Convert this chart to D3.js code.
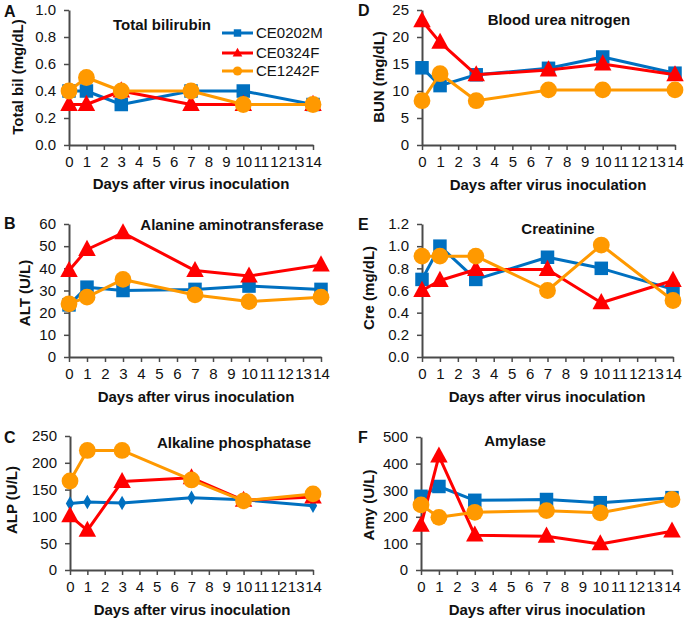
<!DOCTYPE html>
<html>
<head>
<meta charset="utf-8">
<script src="https://cdn.jsdelivr.net/npm/d3@7"></script>
<style>
  html, body { margin: 0; padding: 0; background: #fff; }
  svg text { font-family: Arial, "Liberation Sans", sans-serif; }
</style>
</head>
<body>
<script>
// ---------------- DATA ----------------
const days = [0, 1, 3, 7, 10, 14];
const seriesNames = ["CE0202M", "CE0324F", "CE1242F"];
const xTickLabels = d3.range(0, 15);

// A: Total bilirubin (mg/dL)
const bil_CE0202M = [0.4, 0.4, 0.3, 0.4, 0.4, 0.3];
const bil_CE0324F = [0.3, 0.3, 0.4, 0.3, 0.3, 0.3];
const bil_CE1242F = [0.4, 0.5, 0.4, 0.4, 0.3, 0.3];

// B: ALT (U/L)
const alt_CE0202M = [23.5, 31.5, 30, 30.5, 32, 30.5];
const alt_CE0324F = [39, 48.5, 56, 39, 36.5, 41.5];
const alt_CE1242F = [24, 27, 35, 28, 25, 27];

// C: ALP (U/L)
const alp_CE0202M = [124, 127, 125, 135, 131, 120];
const alp_CE0324F = [101, 74, 165, 172, 130, 136];
const alp_CE1242F = [166, 223, 223, 168, 129, 142];

// D: BUN (mg/dL)
const bun_CE0202M = [14.3, 11, 13, 14.2, 16.3, 13.3];
const bun_CE0324F = [23, 19, 13, 13.9, 15, 13];
const bun_CE1242F = [8.2, 13.2, 8.2, 10.2, 10.2, 10.2];

// E: Creatinine (mg/dL)
const cre_CE0202M = [0.70, 1.00, 0.70, 0.90, 0.80, 0.61];
const cre_CE0324F = [0.60, 0.69, 0.79, 0.79, 0.49, 0.69];
const cre_CE1242F = [0.91, 0.91, 0.91, 0.60, 1.01, 0.51];

// F: Amylase (U/L)
const amy_CE0202M = [277, 314, 262, 265, 253, 272];
const amy_CE0324F = [168, 428, 131, 127, 98, 146];
const amy_CE1242F = [245, 198, 217, 223, 215, 265];

// ---------------- STYLE / LAYOUT ----------------
const colors = { CE0202M: "#0070C0", CE0324F: "#FF0000", CE1242F: "#FF9900" };
const W = 688, H = 622;

const panels = [
  { letter: "A", title: "Total bilirubin", ytitle: "Total bil (mg/dL)",
    data: [bil_CE0202M, bil_CE0324F, bil_CE1242F], max: 1.0, step: 0.2, fmt: ".1f",
    x0: 69, x1: 313, yt: 10, yb: 145, lx: 4, ly: 17, tx: 162, ty: 25, ytx: 18, yty: 77, xtx: 191, xty: 184 },
  { letter: "B", title: "Alanine aminotransferase", ytitle: "ALT (U/L)",
    data: [alt_CE0202M, alt_CE0324F, alt_CE1242F], max: 60, step: 10, fmt: "d",
    x0: 69, x1: 321, yt: 224, yb: 357, lx: 4, ly: 229, tx: 232, ty: 225, ytx: 25, yty: 293, xtx: 196, xty: 397 },
  { letter: "C", title: "Alkaline phosphatase", ytitle: "ALP (U/L)",
    data: [alp_CE0202M, alp_CE0324F, alp_CE1242F], max: 250, step: 50, fmt: "d", diamondBlue: true,
    x0: 70, x1: 313, yt: 436, yb: 570, lx: 4, ly: 443, tx: 234, ty: 443, ytx: 12, yty: 500, xtx: 192, xty: 610 },
  { letter: "D", title: "Blood urea nitrogen", ytitle: "BUN (mg/dL)",
    data: [bun_CE0202M, bun_CE0324F, bun_CE1242F], max: 25, step: 5, fmt: "d",
    x0: 422, x1: 675, yt: 10, yb: 145, lx: 358, ly: 16, tx: 559, ty: 20, ytx: 379, yty: 77, xtx: 548, xty: 185 },
  { letter: "E", title: "Creatinine", ytitle: "Cre (mg/dL)",
    data: [cre_CE0202M, cre_CE0324F, cre_CE1242F], max: 1.2, step: 0.2, fmt: ".1f",
    x0: 422, x1: 673, yt: 224, yb: 357, lx: 358, ly: 230, tx: 558, ty: 229, ytx: 369, yty: 288, xtx: 547, xty: 397 },
  { letter: "F", title: "Amylase", ytitle: "Amy (U/L)",
    data: [amy_CE0202M, amy_CE0324F, amy_CE1242F], max: 500, step: 100, fmt: "d",
    x0: 421, x1: 672, yt: 437, yb: 570, lx: 358, ly: 443, tx: 515, ty: 441, ytx: 369, yty: 505, xtx: 547, xty: 610 }
];

const svg = d3.select("body").append("svg").attr("width", W).attr("height", H);
const axisColor = "#4a4a4a";
const textColor = "#111";

function drawMarker(g, name, cx, cy, scale, diamond) {
  const c = colors[name];
  if (name === "CE0202M") {
    if (diamond) {
      g.append("path").attr("d", d3.symbol(d3.symbolDiamond, 60 * scale * scale)())
        .attr("transform", `translate(${cx},${cy})`).attr("fill", c);
    } else {
      const s = 13.5 * scale;
      g.append("rect").attr("x", cx - s / 2).attr("y", cy - s / 2).attr("width", s).attr("height", s).attr("fill", c);
    }
  } else if (name === "CE0324F") {
    const s = 17.5 * scale, h = s * 0.92;
    g.append("path")
      .attr("d", `M${cx},${cy - h * 0.6}L${cx + s / 2},${cy + h * 0.4}L${cx - s / 2},${cy + h * 0.4}Z`)
      .attr("fill", c);
  } else {
    g.append("circle").attr("cx", cx).attr("cy", cy).attr("r", 8.4 * scale).attr("fill", c);
  }
}

panels.forEach(p => {
  const g = svg.append("g");
  const x = d3.scaleLinear().domain([0, 14]).range([p.x0, p.x1]);
  const y = d3.scaleLinear().domain([0, p.max]).range([p.yb, p.yt]);
  const yTicks = d3.range(0, p.max + p.step / 2, p.step);

  const yAxis = d3.axisLeft(y).tickValues(yTicks).tickFormat(d3.format(p.fmt))
    .tickSize(5).tickSizeOuter(0).tickPadding(8);
  const xAxis = d3.axisBottom(x).tickValues(xTickLabels).tickFormat(d3.format("d"))
    .tickSize(5).tickSizeOuter(0).tickPadding(6);

  const ga = g.append("g").attr("transform", `translate(${p.x0},0)`).call(yAxis);
  const gx = g.append("g").attr("transform", `translate(0,${p.yb})`).call(xAxis);
  [ga, gx].forEach(a => {
    a.select(".domain").attr("stroke", axisColor).attr("stroke-width", 2);
    a.selectAll(".tick line").attr("stroke", axisColor).attr("stroke-width", 1.5);
    a.selectAll(".tick text").attr("fill", textColor).style("font-size", "15px");
  });

  // lines + markers
  seriesNames.forEach((name, si) => {
    const vals = p.data[si];
    const pts = days.map((d, i) => [x(d), y(vals[i])]);
    g.append("path").attr("d", d3.line()(pts)).attr("fill", "none")
      .attr("stroke", colors[name]).attr("stroke-width", 3).attr("stroke-linejoin", "round");
    pts.forEach(pt => drawMarker(g, name, pt[0], pt[1], 1, p.diamondBlue));
  });

  // texts
  g.append("text").attr("x", p.lx).attr("y", p.ly).text(p.letter)
    .style("font-size", "16px").style("font-weight", "bold").attr("fill", textColor);
  g.append("text").attr("x", p.tx).attr("y", p.ty).attr("text-anchor", "middle").attr("dy", "0.35em")
    .text(p.title).style("font-size", "15px").style("font-weight", "bold").attr("fill", textColor);
  g.append("text").attr("transform", `translate(${p.ytx},${p.yty}) rotate(-90)`)
    .attr("text-anchor", "middle").attr("dy", "0.35em")
    .text(p.ytitle).style("font-size", "15px").style("font-weight", "bold").attr("fill", textColor);
  g.append("text").attr("x", p.xtx).attr("y", p.xty).attr("text-anchor", "middle").attr("dy", "0.35em")
    .text("Days after virus inoculation").style("font-size", "15px").style("font-weight", "bold").attr("fill", textColor);
});

// Legend (in panel A)
const lg = svg.append("g");
const legendY = [33, 53, 71];
seriesNames.forEach((name, i) => {
  const yy = legendY[i];
  lg.append("line").attr("x1", 222).attr("x2", 253).attr("y1", yy).attr("y2", yy)
    .attr("stroke", colors[name]).attr("stroke-width", 3);
  drawMarker(lg, name, 237.5, yy, 0.55, false);
  lg.append("text").attr("x", 256).attr("y", yy).attr("dy", "0.35em").text(name)
    .style("font-size", "15px").attr("fill", textColor);
});
</script>
</body>
</html>
